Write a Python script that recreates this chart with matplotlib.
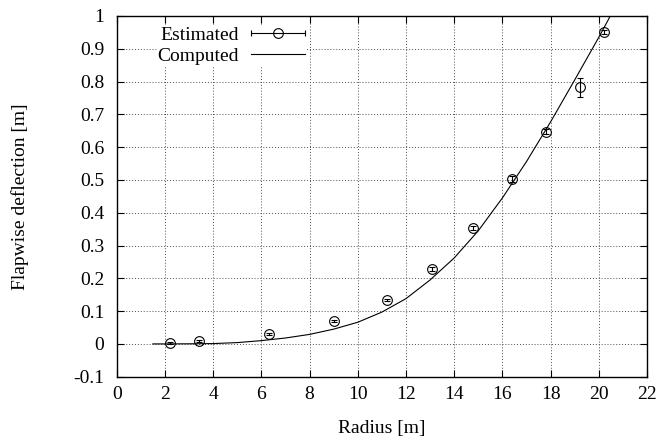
import matplotlib
matplotlib.use("Agg")
import numpy as np
import matplotlib.pyplot as plt
from matplotlib.container import ErrorbarContainer
from matplotlib.legend_handler import HandlerErrorbar

plt.rcParams['font.family'] = 'serif'
plt.rcParams['font.serif'] = ['Liberation Serif', 'DejaVu Serif']
plt.rcParams['font.size'] = 14

# estimated deflection along the blade
radius_est = [2.2, 3.4, 6.3, 9.0, 11.2, 13.1, 14.8, 16.4, 17.8, 19.2, 20.2]
defl_est = [0.003, 0.009, 0.031, 0.069, 0.135, 0.228, 0.353, 0.503, 0.647, 0.783, 0.951]
defl_err = [0.003, 0.003, 0.003, 0.003, 0.003, 0.007, 0.007, 0.008, 0.008, 0.029, 0.007]

# computed deflection curve
radius_comp = [1.5, 2, 3, 4, 5, 6, 7, 8, 9, 10, 11, 12, 13, 14, 15, 16, 17, 18, 19, 20, 20.5]
defl_comp = [0.0, 0.0, 0.0003, 0.001, 0.004, 0.010, 0.018, 0.029, 0.045, 0.066, 0.097,
             0.138, 0.195, 0.262, 0.345, 0.445, 0.556, 0.677, 0.805, 0.935, 1.003]

xticks = np.arange(0, 23, 2)
yticks = np.arange(-0.1, 1.01, 0.1)

fig = plt.figure(figsize=(6.6, 4.43), dpi=100)
ax = fig.add_axes([116.7 / 660, 1 - 376.7 / 443, 530.3 / 660, 360.7 / 443])

ax.errorbar(radius_est, defl_est, yerr=defl_err, fmt='o', ms=7, mfc='none', mec='k',
            mew=0.8, ecolor='k', elinewidth=0.8, capsize=2.5, capthick=0.8,
            label='_nolegend_', zorder=3)
line, = ax.plot(radius_comp, defl_comp, color='k', lw=0.8, zorder=3)

# proxy so the key shows a horizontal error bar
proxy = ax.errorbar([np.nan], [np.nan], xerr=[1.0], fmt='o', ms=7, mfc='none', mec='k',
                    mew=0.8, ecolor='k', elinewidth=0.8, capsize=2.5, capthick=0.8)

ax.set_xlim(0, 22)
ax.set_ylim(-0.1, 1.0)
ax.set_xticks(xticks)
ax.set_yticks(yticks)
ax.yaxis.set_major_formatter(plt.FuncFormatter(lambda v, p: '%g' % round(v, 2)))
ax.tick_params(direction='in', length=5, width=0.8, top=True, right=True)
ax.tick_params(axis='x', pad=7)
ax.tick_params(axis='y', pad=9)
for s in ax.spines.values():
    s.set_linewidth(1.0)

ax.grid(True, color='0.3', linestyle=(0, (1, 2)), linewidth=0.7)
ax.set_axisbelow(True)

ax.set_xlabel('Radius [m]')
ax.set_ylabel('Flapwise deflection [m]')
ax.xaxis.set_label_coords(0.5, -0.12)
ax.yaxis.set_label_coords(-0.165, 0.5)

leg = ax.legend([proxy, line], ['Estimated', 'Computed'], loc='upper right',
                bbox_to_anchor=(0.373, 0.998), markerfirst=False, frameon=True,
                fancybox=False, framealpha=1, edgecolor='white', borderpad=0.0,
                handlelength=2.78, handletextpad=0.62, labelspacing=0.16,
                handler_map={ErrorbarContainer: HandlerErrorbar(xerr_size=1.39)})
leg.set_zorder(4)

fig.savefig('out.png', dpi=100)
